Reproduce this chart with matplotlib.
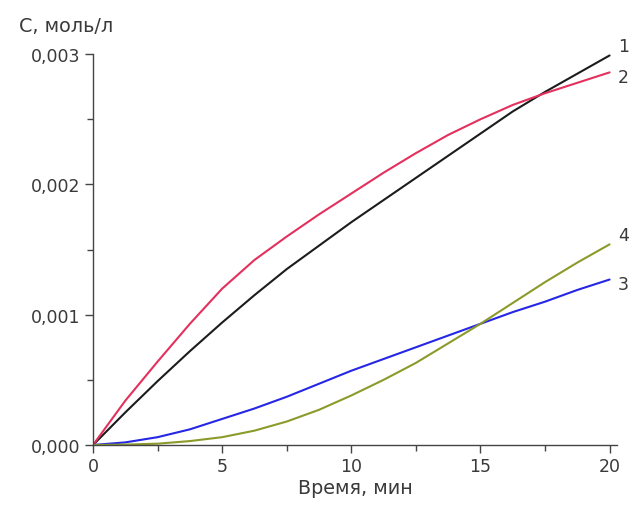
import matplotlib
matplotlib.use("Agg")
import matplotlib.pyplot as plt
from matplotlib.ticker import FuncFormatter, MultipleLocator

plt.rcParams['font.family'] = ['DejaVu Sans']

# time, min
t = [0, 1.25, 2.5, 3.75, 5, 6.25, 7.5, 8.75, 10, 11.25, 12.5,
     13.75, 15, 16.25, 17.5, 18.75, 20]

# concentration, mol/L
c1 = [0, 0.00025, 0.00049, 0.00072, 0.00094, 0.00115, 0.00135, 0.00153,
      0.00171, 0.00188, 0.00205, 0.00222, 0.00239, 0.00256, 0.00271,
      0.00285, 0.00299]
c2 = [0, 0.00034, 0.00064, 0.00093, 0.00120, 0.00142, 0.00160, 0.00177,
      0.00193, 0.00209, 0.00224, 0.00238, 0.00250, 0.00261, 0.00270,
      0.00278, 0.00286]
c3 = [0, 0.00002, 0.00006, 0.00012, 0.00020, 0.00028, 0.00037, 0.00047,
      0.00057, 0.00066, 0.00075, 0.00084, 0.00093, 0.00102, 0.00110,
      0.00119, 0.00127]
c4 = [0, 0.000003, 0.00001, 0.00003, 0.00006, 0.00011, 0.00018, 0.00027,
      0.00038, 0.00050, 0.00063, 0.00078, 0.00093, 0.00109, 0.00125,
      0.00140, 0.00154]

series = [("1", c1, "#1c1c1c"), ("2", c2, "#e3305c"),
          ("3", c3, "#2626e6"), ("4", c4, "#8c9a2a")]

FS = 12.5
FS_TITLE = 13.8
TXT = '#3a3a3a'

fig = plt.figure(figsize=(6.34, 5.06), dpi=100)
ax = fig.add_axes([0.1467, 0.1186, 0.827, 0.7724])

for name, c, col in series:
    ax.plot(t, c, color=col, lw=1.5, solid_capstyle='round')
    ax.annotate(name, xy=(t[-1], c[-1]), xytext=(6, 7 if name in ("1", "4") else -3),
                textcoords='offset points', fontsize=FS, color=TXT,
                ha='left', va='center')

ax.set_xlim(0, 20.3)
ax.set_ylim(0, 0.003)

for s in ('top', 'right'):
    ax.spines[s].set_visible(False)
for s in ('left', 'bottom'):
    ax.spines[s].set_color('#444444')
    ax.spines[s].set_linewidth(1.0)

ax.xaxis.set_major_locator(MultipleLocator(5))
ax.xaxis.set_minor_locator(MultipleLocator(2.5))
ax.yaxis.set_major_locator(MultipleLocator(0.001))
ax.yaxis.set_minor_locator(MultipleLocator(0.0005))
ax.yaxis.set_major_formatter(FuncFormatter(lambda v, p: f"{v:.3f}".replace('.', ',')))
ax.xaxis.set_major_formatter(FuncFormatter(lambda v, p: f"{v:.0f}"))

ax.tick_params(which='major', direction='out', length=6, width=1.0,
               color='#444444', labelsize=FS, labelcolor=TXT, pad=3)
ax.tick_params(which='minor', direction='out', length=4, width=1.0, color='#444444')

ax.set_xlabel("Время, мин", fontsize=FS_TITLE, color=TXT, labelpad=2)
fig.text(0.03, 0.948, "С, моль/л", fontsize=FS_TITLE, color=TXT, ha='left', va='center')

fig.savefig("out.png", dpi=100, facecolor='white')
